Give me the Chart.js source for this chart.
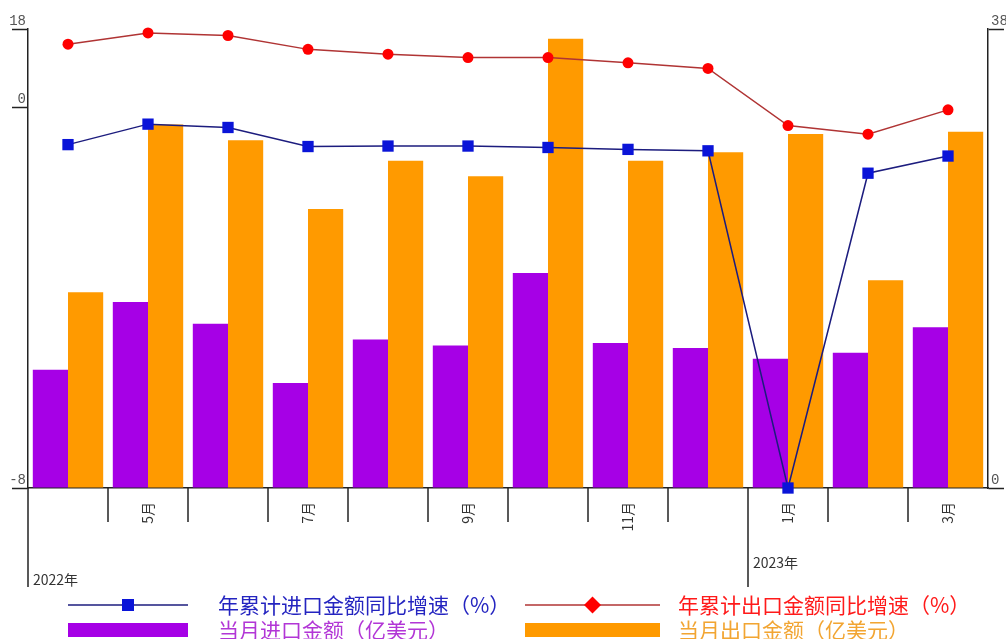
<!DOCTYPE html>
<html>
<head>
<meta charset="utf-8">
<script src="https://cdn.jsdelivr.net/npm/chart.js@4.4.0/dist/chart.umd.min.js"></script>
<style>
  html, body { margin: 0; padding: 0; background: #fff; }
  canvas { display: block; }
</style>
</head>
<body>
<canvas id="tradeChart" width="1006" height="639"></canvas>
<script>
const months = ['4月', '5月', '6月', '7月', '8月', '9月', '10月', '11月', '12月', '1月', '2月', '3月'];
const monthTicks = ['', '5月', '', '7月', '', '9月', '', '11月', '', '1月', '', '3月'];
const years = ['2022年', '2023年'];
const yearStarts = [0, 9];
const importGrowth = [-0.79, -0.36, -0.43, -0.83, -0.82, -0.82, -0.85, -0.89, -0.92, -8, -1.39, -1.03];
const exportGrowth = [14.5, 17.1, 16.5, 13.3, 12.2, 11.4, 11.4, 10.2, 8.9, -0.39, -0.57, -0.06];
const importAmount = [9.8, 15.4, 13.6, 8.7, 12.3, 11.8, 17.8, 12.0, 11.6, 10.7, 11.2, 13.3];
const exportAmount = [16.2, 30.1, 28.8, 23.1, 27.1, 25.8, 37.2, 27.1, 27.8, 29.3, 17.2, 29.5];
const leftTicks = [-8, 0, 18];
const rightTicks = [0, 38];

// left axis in the original is broken: 0..18 squeezed into the top part, -8..0 below
const ZERO_AT = 78 / 459;
class BrokenScale extends Chart.LinearScale {
  breakPixel() { return this.top + (this.bottom - this.top) * ZERO_AT; }
  getPixelForValue(value) {
    const brk = this.breakPixel();
    if (value >= 0) return this.top + (this.max - value) / this.max * (brk - this.top);
    return brk + value / this.min * (this.bottom - brk);
  }
  getValueForPixel(pixel) {
    const brk = this.breakPixel();
    if (pixel <= brk) return this.max - (pixel - this.top) / (brk - this.top) * this.max;
    return (pixel - brk) / (this.bottom - brk) * this.min;
  }
}
BrokenScale.id = 'broken';
BrokenScale.defaults = Chart.LinearScale.defaults;
Chart.register(BrokenScale);

const axisFont = { family: 'Liberation Mono', size: 14 };

const extras = {
  id: 'extras',
  afterDraw(chart) {
    const { ctx, chartArea } = chart;
    const x = chart.scales.x;
    const half = (x.getPixelForValue(1) - x.getPixelForValue(0)) / 2;
    const bottom = chartArea.bottom;
    ctx.save();
    ctx.strokeStyle = '#222';
    ctx.lineWidth = 1.5;
    for (let i = 0; i < months.length; i++) {
      const px = x.getPixelForValue(i) - half;
      const long = yearStarts.includes(i);
      if (i === 0 && !long) continue;
      ctx.beginPath();
      ctx.moveTo(px, bottom);
      ctx.lineTo(px, bottom + (long ? 99 : 34));
      ctx.stroke();
    }
    // year labels
    const yearY = [92, 75];
    ctx.fillStyle = '#333';
    ctx.font = '14px "Noto Sans CJK SC"';
    ctx.textBaseline = 'middle';
    ctx.textAlign = 'left';
    years.forEach((y, k) => {
      const px = x.getPixelForValue(yearStarts[k]) - half;
      ctx.fillText(y, px + 5, bottom + yearY[k]);
    });

    // legend
    const ds = chart.data.datasets;
    const rows = [605, 630];
    const cols = [[68, 188, 218], [525, 660, 678]];
    ctx.font = '21px "Noto Sans CJK SC"';
    ds.forEach((d) => {
      const [x0, x1, tx] = cols[d.legendCol];
      const y = rows[d.legendRow];
      if (d.type === 'line') {
        ctx.strokeStyle = d.borderColor;
        ctx.lineWidth = 1.5;
        ctx.beginPath(); ctx.moveTo(x0, y); ctx.lineTo(x1, y); ctx.stroke();
        ctx.fillStyle = d.pointBackgroundColor;
        const cx = (x0 + x1) / 2;
        ctx.save();
        ctx.translate(cx, y);
        if (d.legendCol === 1) ctx.rotate(Math.PI / 4);
        ctx.fillRect(-6, -6, 12, 12);
        ctx.restore();
      } else {
        ctx.fillStyle = d.backgroundColor;
        ctx.fillRect(x0, y - 7, x1 - x0, 14);
      }
      ctx.fillStyle = d.legendColor;
      ctx.fillText(d.label, tx, y);
    });
    ctx.restore();
  }
};

new Chart(document.getElementById('tradeChart').getContext('2d'), {
  data: {
    labels: months,
    datasets: [
      {
        type: 'line', label: '年累计进口金额同比增速（%）', data: importGrowth, yAxisID: 'y',
        borderColor: '#1c1c7e', borderWidth: 1.5, tension: 0,
        pointStyle: 'rect', pointRadius: 8, pointBackgroundColor: '#0a14d8', pointBorderColor: '#0a14d8',
        pointBorderWidth: 0, clip: false, order: 0,
        legendRow: 0, legendCol: 0, legendColor: '#2424c0'
      },
      {
        type: 'line', label: '年累计出口金额同比增速（%）', data: exportGrowth, yAxisID: 'y',
        borderColor: '#b03434', borderWidth: 1.5, tension: 0,
        pointStyle: 'circle', pointRadius: 5.5, pointBackgroundColor: '#ff0000', pointBorderColor: '#ff0000',
        pointBorderWidth: 0, clip: false, order: 0,
        legendRow: 0, legendCol: 1, legendColor: '#ff1a1a'
      },
      {
        type: 'bar', label: '当月进口金额（亿美元）', data: importAmount, yAxisID: 'y1',
        backgroundColor: '#a600e6', categoryPercentage: 0.88, barPercentage: 1.0, order: 1,
        legendRow: 1, legendCol: 0, legendColor: '#b236d6'
      },
      {
        type: 'bar', label: '当月出口金额（亿美元）', data: exportAmount, yAxisID: 'y1',
        backgroundColor: '#ff9a00', categoryPercentage: 0.88, barPercentage: 1.0, order: 1,
        legendRow: 1, legendCol: 1, legendColor: '#f2a532'
      }
    ]
  },
  options: {
    responsive: false,
    animation: false,
    layout: { padding: { top: 29, left: 0, right: 0, bottom: 0 } },
    plugins: { legend: { display: false }, tooltip: { enabled: false } },
    scales: {
      x: {
        type: 'category',
        offset: true,
        grid: { display: false, drawTicks: false },
        border: { color: '#222', width: 1.5 },
        ticks: {
          autoSkip: false, minRotation: 90, maxRotation: 90, padding: 14,
          color: '#333', font: { family: 'Noto Sans CJK SC', size: 14 },
          callback: (v, i) => monthTicks[i]
        },
        afterFit(s) { s.height = 151; }
      },
      y: {
        type: 'broken',
        position: 'left',
        min: -8, max: 18,
        afterBuildTicks(s) { s.ticks = leftTicks.map(v => ({ value: v })); },
        grid: { drawOnChartArea: false, tickLength: 16, tickColor: '#222', tickWidth: 1.5 },
        border: { color: '#222', width: 1.5 },
        ticks: { padding: -14, labelOffset: -8, color: '#555', font: axisFont },
        afterFit(s) { s.width = 28; }
      },
      y1: {
        type: 'linear',
        position: 'right',
        min: 0, max: 38,
        afterBuildTicks(s) { s.ticks = rightTicks.map(v => ({ value: v })); },
        grid: { drawOnChartArea: false, tickLength: 16, tickColor: '#222', tickWidth: 1.5 },
        border: { color: '#222', width: 1.5 },
        ticks: { padding: -13, labelOffset: -8, color: '#555', font: axisFont },
        afterFit(s) { s.width = 18; }
      }
    }
  },
  plugins: [extras]
});
</script>
</body>
</html>
